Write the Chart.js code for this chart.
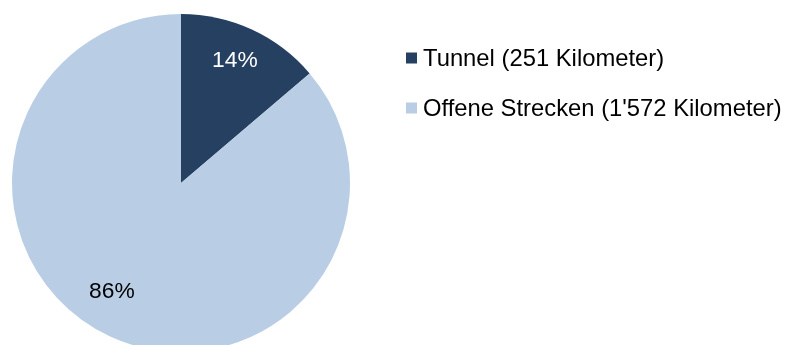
<!DOCTYPE html>
<html>
<head>
<meta charset="utf-8">
<script src="https://cdn.jsdelivr.net/npm/chart.js@4"></script>
<style>
  html, body { margin: 0; padding: 0; background: #ffffff; overflow: hidden; }
  #wrap { position: relative; width: 785px; height: 345px; overflow: hidden; }
  #wrap canvas { position: absolute; left: 0; top: 0; }
</style>
</head>
<body>
<div id="wrap"><canvas id="pie" width="785" height="372"></canvas></div>
<script>
// Streckenanteile in Kilometer
const categories = ['Tunnel (251 Kilometer)', "Offene Strecken (1'572 Kilometer)"];
const kilometers = [251, 1572];
const sliceColors = ['#254061', '#B9CDE5'];
const labelColors = ['#ffffff', '#000000'];
// where each percentage sits inside its slice: share of the sweep and of the radius
const labelPlacement = [
  { sweep: 0.48, radius: 0.79 },
  { sweep: 0.525, radius: 0.76 }
];

const FONT = "'Liberation Sans', Arial, sans-serif";

const percentLabels = {
  id: 'percentLabels',
  afterDatasetsDraw(chart) {
    const meta = chart.getDatasetMeta(0);
    const values = chart.data.datasets[0].data;
    const total = values.reduce((a, b) => a + b, 0);
    const ctx = chart.ctx;
    ctx.save();
    ctx.font = '22.8px ' + FONT;
    ctx.textAlign = 'center';
    ctx.textBaseline = 'middle';
    meta.data.forEach((arc, i) => {
      const p = arc.getProps(['x', 'y', 'startAngle', 'endAngle', 'outerRadius'], true);
      const place = labelPlacement[i];
      const a = p.startAngle + place.sweep * (p.endAngle - p.startAngle);
      const r = p.outerRadius * place.radius;
      ctx.fillStyle = labelColors[i];
      ctx.fillText(Math.round(values[i] / total * 100) + '%', p.x + Math.cos(a) * r, p.y + Math.sin(a) * r);
    });
    ctx.restore();
  }
};

const sideLegend = {
  id: 'sideLegend',
  afterDraw(chart) {
    const ctx = chart.ctx;
    const area = chart.chartArea;
    const left = area.right + 56;
    const box = 11;
    const rowGap = 50;
    ctx.save();
    ctx.font = '23.8px ' + FONT;
    ctx.textAlign = 'left';
    ctx.textBaseline = 'alphabetic';
    chart.data.labels.forEach((label, i) => {
      const cy = area.top + 44 + i * rowGap;
      ctx.fillStyle = chart.data.datasets[0].backgroundColor[i];
      ctx.fillRect(left, cy - box / 2, box, box);
      ctx.fillStyle = '#000000';
      ctx.fillText(label, left + 17, cy + 7.5);
    });
    ctx.restore();
  }
};

new Chart(document.getElementById('pie'), {
  type: 'pie',
  data: {
    labels: categories,
    datasets: [{
      data: kilometers,
      backgroundColor: sliceColors,
      borderWidth: 0,
      hoverOffset: 0
    }]
  },
  options: {
    responsive: false,
    animation: false,
    events: [],
    layout: { padding: { left: 12, top: 14, right: 435, bottom: 20 } },
    plugins: {
      legend: { display: false },
      tooltip: { enabled: false }
    }
  },
  plugins: [percentLabels, sideLegend]
});
</script>
</body>
</html>
